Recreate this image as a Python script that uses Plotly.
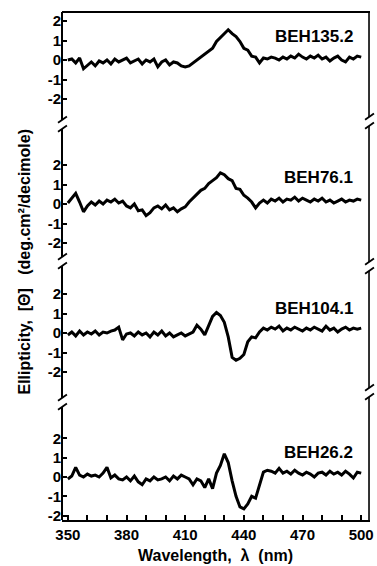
import plotly.graph_objects as go

# ---------------- data ----------------
wavelength = list(range(350, 501, 2))

beh135_2 = [0.0, 0.05, -0.15, 0.1, -0.45, -0.25, -0.1, -0.3, -0.05, -0.15,
            0.0, -0.2, 0.05, -0.1, 0.0, 0.1, -0.15, -0.05, 0.05, -0.2,
            0.0, -0.1, 0.05, -0.35, -0.1, 0.0, -0.25, -0.1, -0.15, -0.3,
            -0.35, -0.3, -0.15, 0.0, 0.15, 0.3, 0.45, 0.6, 0.95, 1.15,
            1.3, 1.55, 1.35, 1.2, 0.95, 0.6, 0.5, 0.2, 0.15, -0.15,
            0.1, 0.05, 0.15, 0.1, 0.0, 0.15, 0.05, 0.2, 0.1, 0.3,
            0.15, 0.05, 0.2, 0.1, 0.25, 0.05, 0.15, -0.05, 0.1, 0.2,
            0.0, -0.1, 0.15, 0.05, 0.2, 0.15]

beh76_1 = [0.05, 0.3, 0.55, 0.1, -0.4, -0.1, 0.1, -0.05, 0.15, 0.0,
           0.2, 0.1, 0.25, 0.05, 0.15, -0.1, -0.2, 0.0, -0.35, -0.3,
           -0.6, -0.45, -0.2, -0.1, -0.25, -0.05, -0.3, -0.2, -0.4, -0.25,
           -0.15, 0.1, 0.3, 0.45, 0.7, 0.8, 1.05, 1.2, 1.35, 1.6,
           1.5, 1.3, 1.2, 0.8, 0.75, 0.45, 0.3, 0.1, -0.2, 0.05,
           0.2, 0.05, 0.25, 0.15, 0.3, 0.1, 0.25, 0.2, 0.35, 0.15,
           0.3, 0.2, 0.1, 0.25, 0.15, 0.3, 0.1, 0.2, 0.05, 0.15,
           0.25, 0.1, 0.2, 0.15, 0.25, 0.2]

beh104_1 = [-0.1, 0.05, -0.15, 0.1, -0.1, 0.05, -0.05, 0.1, -0.1, 0.05,
            0.0, 0.1, 0.15, 0.3, -0.35, -0.05, 0.0, -0.15, 0.05, -0.1,
            0.0, -0.2, 0.05, -0.1, 0.1, -0.15, 0.0, -0.2, -0.1, 0.0,
            -0.15, -0.05, 0.05, 0.4, 0.2, -0.1, 0.35, 0.85, 1.05, 0.9,
            0.55, -0.2, -1.25, -1.4, -1.3, -1.1, -0.45, -0.2, -0.25, 0.05,
            0.25, 0.15, 0.3, 0.2, 0.35, 0.1, 0.25, 0.15, 0.3, 0.2,
            0.1, 0.25, 0.15, 0.3, 0.2, 0.1, 0.35, 0.15, 0.25, 0.05,
            0.2, 0.3, 0.15, 0.25, 0.2, 0.25]

beh26_2 = [-0.1, 0.05, 0.5, 0.1, 0.0, 0.15, 0.05, 0.1, 0.0, 0.2,
           0.5, -0.05, 0.1, -0.1, -0.15, 0.0, -0.2, 0.05, -0.25, -0.4,
           -0.1, -0.2, 0.0, -0.15, -0.1, 0.0, -0.2, 0.05, -0.1, 0.1,
           0.0, -0.1, -0.4, -0.1, -0.2, -0.55, -0.1, -0.6, 0.2, 0.6,
           1.2, 0.75, -0.2, -1.0, -1.55, -1.65, -1.4, -1.0, -1.1, -0.4,
           0.25, 0.35, 0.3, 0.2, 0.45, 0.2, 0.3, 0.15, 0.35, 0.2,
           0.1, 0.25, 0.15, 0.0, 0.2, 0.25, 0.1, 0.3, 0.15, 0.25,
           0.1, 0.3, 0.15, -0.05, 0.25, 0.2]

panel_names = ["BEH135.2", "BEH76.1", "BEH104.1", "BEH26.2"]
panel_series = [beh135_2, beh76_1, beh104_1, beh26_2]

y_tick_vals = [-2, -1, 0, 1, 2]
y_tick_text = ["-2", "-1", "0", "1", "2"]
x_tick_vals = list(range(350, 501, 10))
x_tick_labels = {350: "350", 380: "380", 410: "410", 440: "440", 470: "470", 500: "500"}

# ---------------- layout geometry (pixels) ----------------
W, H = 377, 566
L, R, T, B = 62, 3, 12, 46
PW, PH = W - L - R, H - T - B
bottom_px = T + PH


def py2paper(py):
    return (bottom_px - py) / PH


def px2paper(px):
    return (px - L) / PW


# panel pixel bounds, zero-line pixel, pixels per unit
bounds = [(12, 125), (125, 262), (262, 403), (403, 520)]
zeros = [60, 204, 333, 477]
units = [19.5, 19.5, 19.5, 19.3]
label_y = [1.23, 1.38, 1.28, 1.25]

FONT = "Liberation Sans, Arial, sans-serif"

fig = go.Figure()
layout_axes = {}
for i, (name, vals) in enumerate(zip(panel_names, panel_series)):
    yname = "y" if i == 0 else f"y{i+1}"
    akey = "yaxis" if i == 0 else f"yaxis{i+1}"
    fig.add_trace(go.Scatter(x=wavelength, y=vals, mode="lines",
                             line=dict(color="black", width=3),
                             xaxis="x", yaxis=yname, showlegend=False,
                             hoverinfo="skip"))
    top_px, bot_px = bounds[i]
    z, u = zeros[i], units[i]
    layout_axes[akey] = dict(
        domain=[py2paper(bot_px), py2paper(top_px)],
        range=[-(bot_px - z) / u, (z - top_px) / u],
        anchor="x", tickmode="array", tickvals=y_tick_vals, ticktext=y_tick_text,
        ticks="inside", ticklen=5, tickwidth=1.5, tickcolor="black",
        showgrid=False, zeroline=False, showline=False,
        tickfont=dict(family=FONT, size=15, color="black", weight="bold"),
        fixedrange=True,
    )
    fig.add_annotation(x=497, y=label_y[i], xref="x", yref=yname,
                       text=f"<b>{name}</b>", showarrow=False,
                       xanchor="right", yanchor="middle",
                       font=dict(family=FONT, size=17, color="black"))

fig.update_layout(**layout_axes)
fig.update_layout(
    width=W, height=H,
    margin=dict(l=L, r=R, t=T, b=B, pad=0),
    paper_bgcolor="white", plot_bgcolor="white",
    xaxis=dict(
        range=[347, 504.5], anchor="y4", domain=[0, 1],
        tickmode="array", tickvals=x_tick_vals,
        ticktext=[x_tick_labels.get(v, "") for v in x_tick_vals],
        ticks="inside", ticklen=5, tickwidth=1.5, tickcolor="black",
        showline=True, linewidth=2, linecolor="black",
        showgrid=False, zeroline=False, fixedrange=True,
        ticklabeloverflow="allow",
        tickfont=dict(family=FONT, size=15, color="black", weight="bold"),
    ),
)

# ---------------- frame with axis breaks ----------------
shapes = []
lw = 2


def vline(xpx, y0, y1, w=lw):
    shapes.append(dict(type="line", xref="paper", yref="paper",
                       x0=px2paper(xpx), x1=px2paper(xpx),
                       y0=py2paper(y0), y1=py2paper(y1),
                       line=dict(color="black", width=w)))


def seg(x0, y0, x1, y1, w=1.8):
    shapes.append(dict(type="line", xref="paper", yref="paper",
                       x0=px2paper(x0), x1=px2paper(x1),
                       y0=py2paper(y0), y1=py2paper(y1),
                       line=dict(color="black", width=w)))


left_gaps = [120, 257, 398]
right_gaps = [117, 262, 388]
gap = 9

for xa, gaps, w in [(L, left_gaps, 2), (L + PW - 1, right_gaps, 1.6)]:
    ys = [T] + [v for g in gaps for v in (g, g + gap)] + [bottom_px]
    for k in range(0, len(ys), 2):
        vline(xa, ys[k], ys[k + 1], w)
    for g in gaps:
        for gy in (g, g + gap):
            seg(xa - 4, gy + 2.8, xa + 5, gy - 3.5)

# top frame line
seg(L, T, L + PW, T, w=2)

fig.update_layout(shapes=shapes)

# ---------------- titles ----------------
fig.add_annotation(x=px2paper(23), y=py2paper(262), xref="paper", yref="paper",
                   text="<b>Ellipticity,  [\u0398]\u00a0\u00a0 (deg.cm\u00b2/decimole)</b>",
                   textangle=-90, showarrow=False, xanchor="center", yanchor="middle",
                   font=dict(family=FONT, size=16, color="black"))
fig.add_annotation(x=px2paper(217), y=py2paper(555), xref="paper", yref="paper",
                   text="<b>Wavelength,  \u03bb  (nm)</b>",
                   showarrow=False, xanchor="center", yanchor="middle",
                   font=dict(family=FONT, size=16, color="black"))

fig.write_html("out.html", config={"displayModeBar": False},
               post_script="document.body.style.margin='0';document.body.style.overflow='hidden';")
